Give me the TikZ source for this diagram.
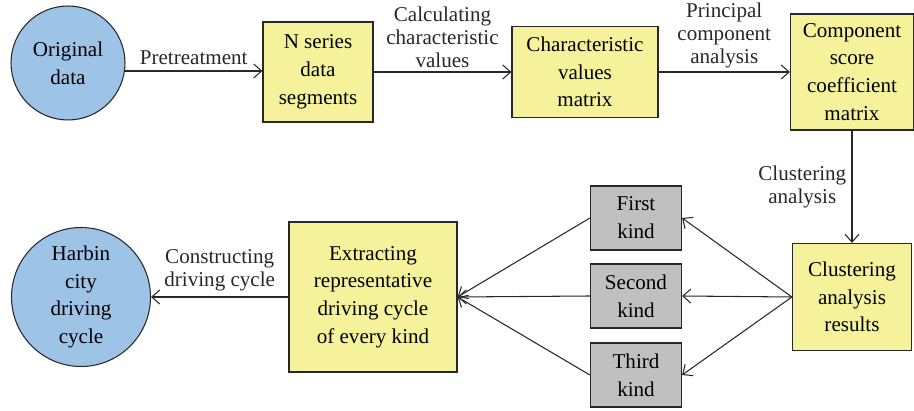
\documentclass[tikz,border=0pt]{standalone}
\usepackage{fontspec}
\setmainfont{Liberation Serif}
\usetikzlibrary{arrows.meta, positioning, shapes.geometric}

\definecolor{circblue}{RGB}{157,195,230}
\definecolor{boxyellow}{RGB}{246,242,155}
\definecolor{kindgray}{RGB}{192,192,192}
\definecolor{edgegray}{RGB}{40,40,40}

\begin{document}
\begin{tikzpicture}[x=0.02cm, y=-0.02cm,
        font=\fontsize{12}{13.2}\selectfont,
        endpoint/.style={circle, draw=edgegray, fill=circblue, line width=0.6pt, inner sep=0pt, align=center, font=\fontsize{12}{15.8}\selectfont},
        stage/.style={rectangle, draw=edgegray, fill=boxyellow, line width=0.7pt, inner sep=0pt, align=center, font=\fontsize{12}{15.8}\selectfont},
        kind/.style={rectangle, draw=edgegray, fill=kindgray, line width=0.7pt, inner sep=0pt, minimum width=1.82cm, minimum height=1.28cm, align=center, font=\fontsize{12}{15.8}\selectfont},
        flow/.style={-{Straight Barb[length=4.5pt, width=8pt]}, line width=0.6pt, edgegray}
    ]
    \useasboundingbox (0,0) rectangle (914,411);

    \node[endpoint, minimum size=2.28cm] (orig) at (68, 63) {Original\\data};
    \node[stage, minimum width=2.2cm, minimum height=2.0cm] (nseries) at (318, 72) {N series\\data\\segments};
    \node[stage, minimum width=2.92cm, minimum height=1.82cm] (charmat) at (585, 72) {Characteristic\\values\\matrix};
    \node[stage, minimum width=2.46cm, minimum height=2.32cm] (coefmat) at (852, 72) {Component\\score\\coefficient\\matrix};
    \node[stage, minimum width=2.38cm, minimum height=2.14cm] (results) at (852, 297) {Clustering\\analysis\\results};

    \node[kind] (first) at (636, 218) {First\\kind};
    \node[kind] (second) at (636, 296) {Second\\kind};
    \node[kind] (third) at (636, 375) {Third\\kind};

    \node[stage, minimum width=3.36cm, minimum height=3.0cm] (extract) at (373, 297) {Extracting\\representative\\driving cycle\\of every kind};
    \node[endpoint, minimum size=2.78cm] (harbin) at (81, 297) {Harbin\\city\\driving\\cycle};

    \draw[flow] (orig.-8) -- (orig.-8 -| nseries.west) node[midway, above, inner sep=3pt] {Pretreatment};
    \draw[flow] (nseries) -- (charmat) node[midway, above, align=center, inner sep=2pt] {Calculating\\characteristic\\values};
    \draw[flow] (charmat) -- (coefmat) node[midway, above, align=center, inner sep=2pt] {Principal\\component\\analysis};
    \draw[flow] (coefmat) -- (results) node[midway, left, align=center, inner sep=3pt] {Clustering\\analysis};

    \draw[flow] (results.west) -- (first.east);
    \draw[flow] (results.west) -- (second.east);
    \draw[flow] (results.west) -- (third.east);

    \draw[flow] (first.west) -- (extract.east);
    \draw[flow] (second.west) -- (extract.east);
    \draw[flow] (third.west) -- (extract.east);

    \draw[flow] (extract) -- (harbin) node[midway, above, align=center, inner sep=3pt] {Constructing\\driving cycle};
\end{tikzpicture}
\end{document}
